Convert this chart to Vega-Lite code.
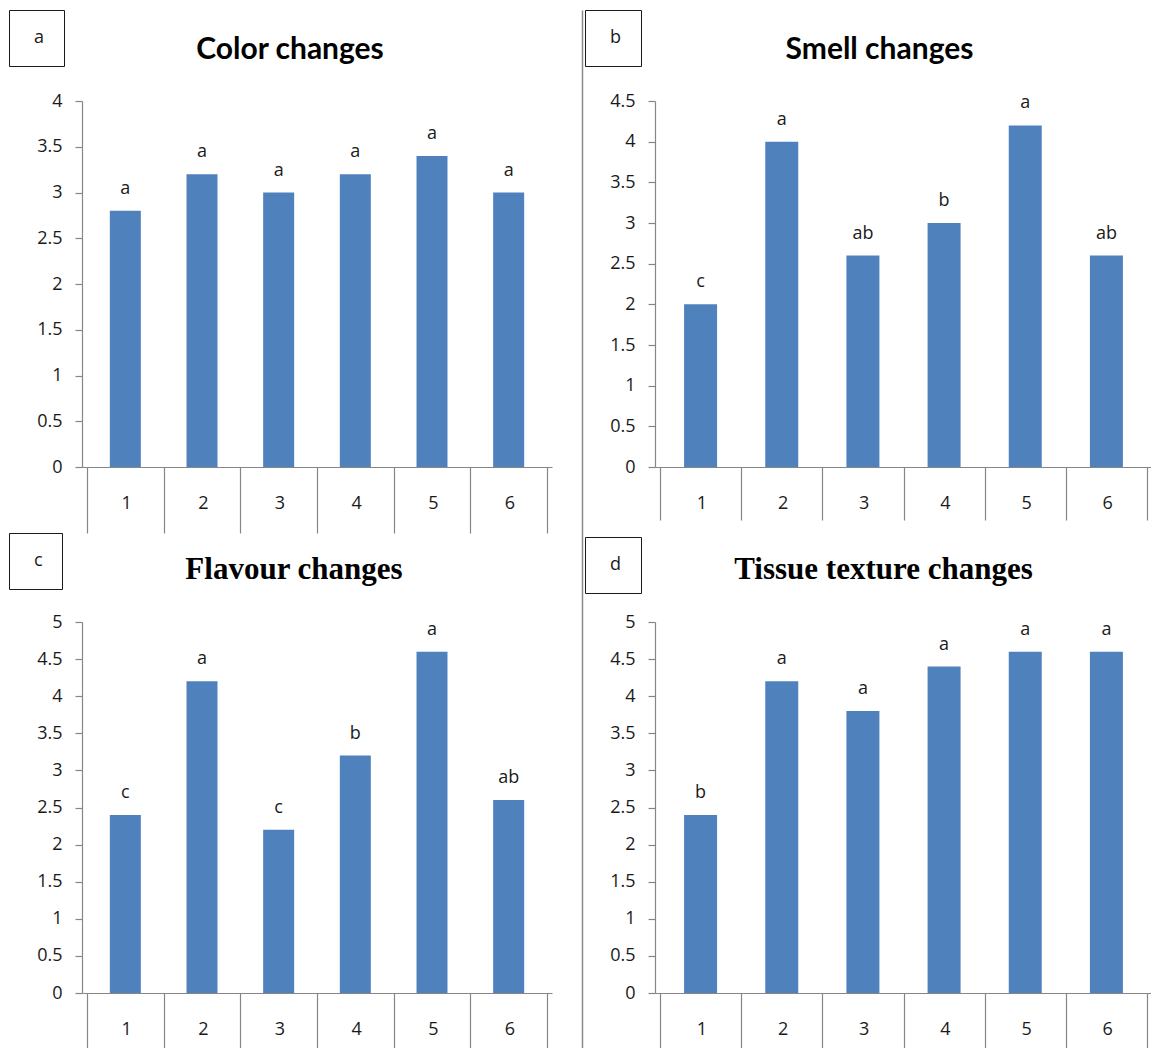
{
  "$schema": "https://vega.github.io/schema/vega-lite/v6.json",
  "padding": {"left": 8, "top": 9, "right": 0, "bottom": 0},
  "autosize": {"type": "pad"},
  "background": "#ffffff",
  "datasets": {
    "scores": [
      {"panel": "a", "trt": 1, "score": 2.8, "grp": "a"},
      {"panel": "a", "trt": 2, "score": 3.2, "grp": "a"},
      {"panel": "a", "trt": 3, "score": 3.0, "grp": "a"},
      {"panel": "a", "trt": 4, "score": 3.2, "grp": "a"},
      {"panel": "a", "trt": 5, "score": 3.4, "grp": "a"},
      {"panel": "a", "trt": 6, "score": 3.0, "grp": "a"},
      {"panel": "b", "trt": 1, "score": 2.0, "grp": "c"},
      {"panel": "b", "trt": 2, "score": 4.0, "grp": "a"},
      {"panel": "b", "trt": 3, "score": 2.6, "grp": "ab"},
      {"panel": "b", "trt": 4, "score": 3.0, "grp": "b"},
      {"panel": "b", "trt": 5, "score": 4.2, "grp": "a"},
      {"panel": "b", "trt": 6, "score": 2.6, "grp": "ab"},
      {"panel": "c", "trt": 1, "score": 2.4, "grp": "c"},
      {"panel": "c", "trt": 2, "score": 4.2, "grp": "a"},
      {"panel": "c", "trt": 3, "score": 2.2, "grp": "c"},
      {"panel": "c", "trt": 4, "score": 3.2, "grp": "b"},
      {"panel": "c", "trt": 5, "score": 4.6, "grp": "a"},
      {"panel": "c", "trt": 6, "score": 2.6, "grp": "ab"},
      {"panel": "d", "trt": 1, "score": 2.4, "grp": "b"},
      {"panel": "d", "trt": 2, "score": 4.2, "grp": "a"},
      {"panel": "d", "trt": 3, "score": 3.8, "grp": "a"},
      {"panel": "d", "trt": 4, "score": 4.4, "grp": "a"},
      {"panel": "d", "trt": 5, "score": 4.6, "grp": "a"},
      {"panel": "d", "trt": 6, "score": 4.6, "grp": "a"}
    ]
  },
  "columns": 2,
  "bounds": "flush",
  "spacing": {"row": 155, "column": 103},
  "resolve": {"scale": {"color": "independent"}, "legend": {"color": "independent"}},
  "concat": [
    {
      "width": 470, "height": 366,
      "title": {"text": "Color changes", "frame": "group", "font": "Lato", "fontSize": 30, "fontWeight": "bold", "color": "#000000", "anchor": "middle", "dx": -27, "dy": 122, "offset": 43, "baseline": "alphabetic"},
      "data": {"name": "scores"},
      "transform": [{"filter": "datum.panel == 'a'"}],
      "encoding": {
        "x": {"field": "trt", "type": "quantitative", "scale": {"domain": [0.5, 6.5], "nice": false, "zero": false},
          "axis": {"title": null, "values": [0.5, 1.5, 2.5, 3.5, 4.5, 5.5, 6.5], "labelExpr": "datum.value < 6 ? format(datum.value + 0.5, 'd') : ''", "labelOffset": 39.17, "tickSize": 66, "labelPadding": -39, "labelBaseline": "top", "labelFlush": false, "labelOverlap": false}},
        "y": {"field": "score", "type": "quantitative", "scale": {"domain": [0, 4], "nice": false},
          "axis": {"title": null, "values": [0, 0.5, 1, 1.5, 2, 2.5, 3, 3.5, 4], "format": ".1~f", "tickSize": 7, "labelPadding": 13, "labelFlush": false, "labelOverlap": false}}
      },
      "layer": [
        {"mark": {"type": "bar", "size": 31},
          "encoding": {"color": {"field": "panel", "type": "nominal", "scale": {"range": ["#4F81BD"]},
            "legend": {"orient": "none", "legendX": -73, "legendY": -91, "title": null, "padding": 19, "strokeColor": "#1a1a1a", "fillColor": "#ffffff", "symbolSize": 0.01, "symbolOpacity": 0, "symbolStrokeWidth": 0, "labelOffset": -12, "labelFont": "Open Sans", "labelFontSize": 18, "labelColor": "#1a1a1a", "labelExpr": "' ' + datum.label + ' '"}}}},
        {"mark": {"type": "text", "baseline": "alphabetic", "dy": -17, "font": "Open Sans", "fontSize": 18, "color": "#1a1a1a"},
          "encoding": {"text": {"field": "grp"}}}
      ]
    },
    {
      "width": 497, "height": 366,
      "title": {"text": "Smell changes", "frame": "group", "font": "Lato", "fontSize": 30, "fontWeight": "bold", "color": "#000000", "anchor": "middle", "dx": -24, "dy": 122, "offset": 43, "baseline": "alphabetic"},
      "encoding": {
        "x": {"field": "trt", "type": "quantitative", "scale": {"domain": [0.5, 6.5], "nice": false, "zero": false},
          "axis": {"title": null, "values": [0.5, 1.5, 2.5, 3.5, 4.5, 5.5, 6.5], "labelExpr": "datum.value < 6 ? format(datum.value + 0.5, 'd') : ''", "labelOffset": 41.4, "tickSize": 53, "labelPadding": -26, "labelBaseline": "top", "labelFlush": false, "labelOverlap": false}}
      },
      "layer": [
        {
          "encoding": {
            "y": {"field": "score", "type": "quantitative", "scale": {"domain": [0, 4.5], "nice": false},
              "axis": {"title": null, "values": [0, 0.5, 1, 1.5, 2, 2.5, 3, 3.5, 4, 4.5], "format": ".1~f", "tickSize": 7, "labelPadding": 13, "labelFlush": false, "labelOverlap": false}}
          },
          "layer": [
            {"data": {"name": "scores"},
              "transform": [{"filter": "datum.panel == 'b'"}],
              "mark": {"type": "bar", "size": 33},
              "encoding": {"color": {"field": "panel", "type": "nominal", "scale": {"range": ["#4F81BD"]},
                "legend": {"orient": "none", "legendX": -70, "legendY": -91, "title": null, "padding": 19, "strokeColor": "#1a1a1a", "fillColor": "#ffffff", "symbolSize": 0.01, "symbolOpacity": 0, "symbolStrokeWidth": 0, "labelOffset": -12, "labelFont": "Open Sans", "labelFontSize": 18, "labelColor": "#1a1a1a", "labelExpr": "' ' + datum.label + ' '"}}}},
            {"data": {"name": "scores"},
              "transform": [{"filter": "datum.panel == 'b'"}],
              "mark": {"type": "text", "baseline": "alphabetic", "dy": -17, "font": "Open Sans", "fontSize": 18, "color": "#1a1a1a"},
              "encoding": {"text": {"field": "grp"}}}
          ]
        },
        {"data": {"name": "scores"},
          "transform": [{"filter": "datum.panel == 'b'"}],
          "mark": {"type": "point", "opacity": 0},
          "encoding": {
            "y": {"field": "score", "type": "quantitative", "scale": {"domain": [0, 4.5], "nice": false, "zero": false, "range": [948, -91]},
              "axis": {"orient": "left", "offset": 73, "ticks": false, "labels": false, "grid": false, "title": null, "domain": true, "domainColor": "#8c8c8c", "domainWidth": 1.5}}
          }}
      ],
      "resolve": {"scale": {"y": "independent"}}
    },
    {
      "width": 470, "height": 371,
      "title": {"text": "Flavour changes", "frame": "group", "font": "Liberation Serif", "fontSize": 31, "fontWeight": "bold", "color": "#000000", "anchor": "middle", "dx": -23, "dy": 120, "offset": 43, "baseline": "alphabetic"},
      "data": {"name": "scores"},
      "transform": [{"filter": "datum.panel == 'c'"}],
      "encoding": {
        "x": {"field": "trt", "type": "quantitative", "scale": {"domain": [0.5, 6.5], "nice": false, "zero": false},
          "axis": {"title": null, "values": [0.5, 1.5, 2.5, 3.5, 4.5, 5.5, 6.5], "labelExpr": "datum.value < 6 ? format(datum.value + 0.5, 'd') : ''", "labelOffset": 39.17, "tickSize": 56, "labelPadding": -29, "labelBaseline": "top", "labelFlush": false, "labelOverlap": false}},
        "y": {"field": "score", "type": "quantitative", "scale": {"domain": [0, 5], "nice": false},
          "axis": {"title": null, "values": [0, 0.5, 1, 1.5, 2, 2.5, 3, 3.5, 4, 4.5, 5], "format": ".1~f", "tickSize": 7, "labelPadding": 13, "labelFlush": false, "labelOverlap": false}}
      },
      "layer": [
        {"mark": {"type": "bar", "size": 31},
          "encoding": {"color": {"field": "panel", "type": "nominal", "scale": {"range": ["#4F81BD"]},
            "legend": {"orient": "none", "legendX": -73, "legendY": -89, "title": null, "padding": 19, "strokeColor": "#1a1a1a", "fillColor": "#ffffff", "symbolSize": 0.01, "symbolOpacity": 0, "symbolStrokeWidth": 0, "labelOffset": -12, "labelFont": "Open Sans", "labelFontSize": 18, "labelColor": "#1a1a1a", "labelExpr": "' ' + datum.label + ' '"}}}},
        {"mark": {"type": "text", "baseline": "alphabetic", "dy": -17, "font": "Open Sans", "fontSize": 18, "color": "#1a1a1a"},
          "encoding": {"text": {"field": "grp"}}}
      ]
    },
    {
      "width": 497, "height": 371,
      "title": {"text": "Tissue texture changes", "frame": "group", "font": "Liberation Serif", "fontSize": 31, "fontWeight": "bold", "color": "#000000", "anchor": "middle", "dx": -20, "dy": 116, "offset": 43, "baseline": "alphabetic"},
      "data": {"name": "scores"},
      "transform": [{"filter": "datum.panel == 'd'"}],
      "encoding": {
        "x": {"field": "trt", "type": "quantitative", "scale": {"domain": [0.5, 6.5], "nice": false, "zero": false},
          "axis": {"title": null, "values": [0.5, 1.5, 2.5, 3.5, 4.5, 5.5, 6.5], "labelExpr": "datum.value < 6 ? format(datum.value + 0.5, 'd') : ''", "labelOffset": 41.4, "tickSize": 56, "labelPadding": -29, "labelBaseline": "top", "labelFlush": false, "labelOverlap": false}},
        "y": {"field": "score", "type": "quantitative", "scale": {"domain": [0, 5], "nice": false},
          "axis": {"title": null, "values": [0, 0.5, 1, 1.5, 2, 2.5, 3, 3.5, 4, 4.5, 5], "format": ".1~f", "tickSize": 7, "labelPadding": 13, "labelFlush": false, "labelOverlap": false}}
      },
      "layer": [
        {"mark": {"type": "bar", "size": 33},
          "encoding": {"color": {"field": "panel", "type": "nominal", "scale": {"range": ["#4F81BD"]},
            "legend": {"orient": "none", "legendX": -70, "legendY": -85, "title": null, "padding": 19, "strokeColor": "#1a1a1a", "fillColor": "#ffffff", "symbolSize": 0.01, "symbolOpacity": 0, "symbolStrokeWidth": 0, "labelOffset": -12, "labelFont": "Open Sans", "labelFontSize": 18, "labelColor": "#1a1a1a", "labelExpr": "' ' + datum.label + ' '"}}}},
        {"mark": {"type": "text", "baseline": "alphabetic", "dy": -17, "font": "Open Sans", "fontSize": 18, "color": "#1a1a1a"},
          "encoding": {"text": {"field": "grp"}}}
      ]
    }
  ],
  "config": {
    "view": {"stroke": null},
    "axis": {"grid": false, "domainColor": "#868686", "tickColor": "#868686", "domainWidth": 1.2, "tickWidth": 1.2, "labelFont": "Open Sans", "labelFontSize": 18, "labelColor": "#1a1a1a"}
  }
}
